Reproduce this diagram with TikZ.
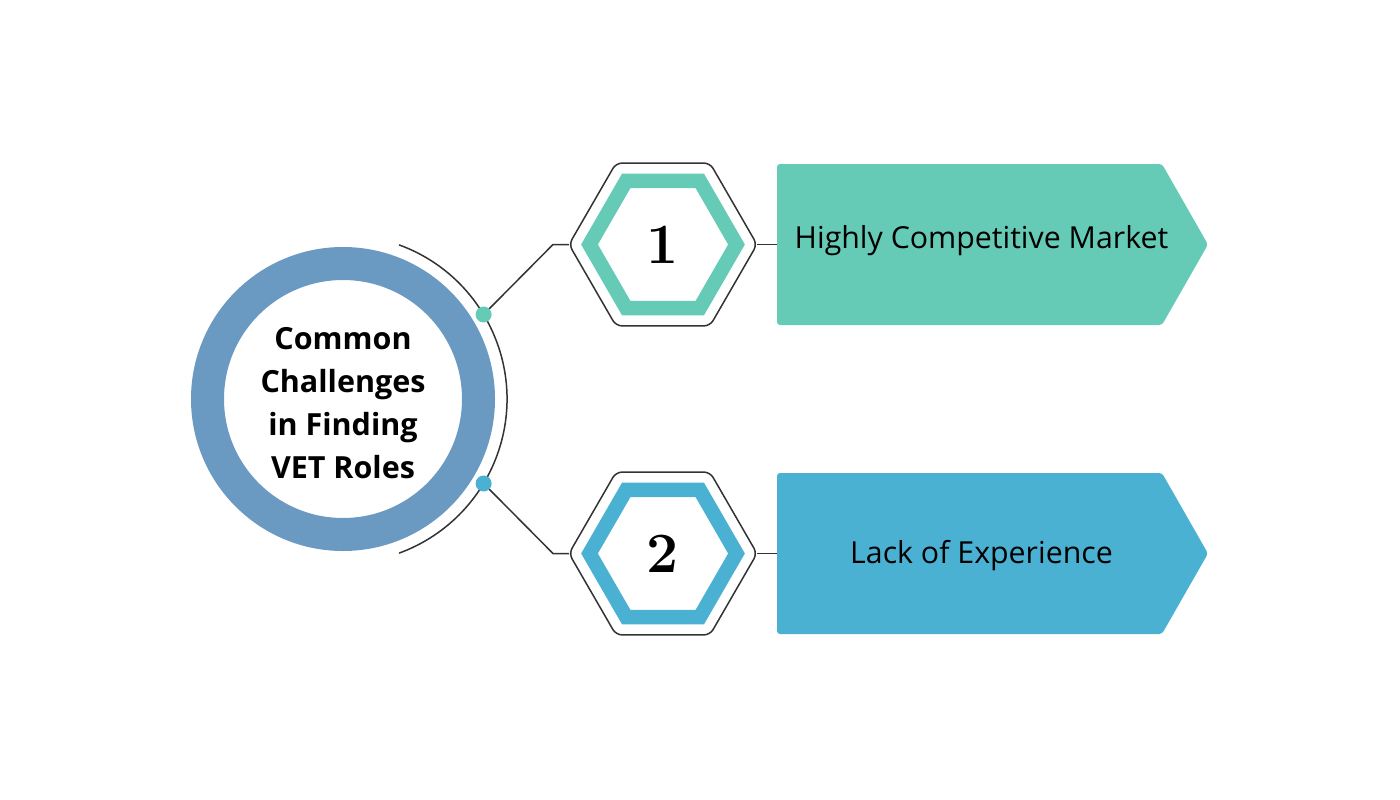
\documentclass[tikz,border=0pt]{standalone}
\usepackage{fontspec}
\usetikzlibrary{shapes.geometric}
\newfontfamily\osans{Open Sans}
\definecolor{tealc}{HTML}{66CBB6}
\definecolor{bluec}{HTML}{4BB1D3}
\definecolor{ringc}{HTML}{6A9AC2}
\definecolor{linec}{HTML}{333333}
\tikzset{
  conn/.style={draw=linec, line width=1.5pt},
  hexout/.style={regular polygon, regular polygon sides=6, minimum size=188pt, inner sep=0pt, outer sep=0pt, draw=linec, line width=1.5pt, rounded corners=6pt, fill=white},
  hexin/.style={regular polygon, regular polygon sides=6, minimum size=147pt, inner sep=0pt, outer sep=0pt, line width=14.5pt},
  dotn/.style={circle, minimum size=16pt, inner sep=0pt, outer sep=0pt},
  numtxt/.style={inner sep=0pt, font=\fontsize{57}{57}\selectfont\bfseries},
  boxtxt/.style={inner sep=0pt, anchor=base, text=black, font=\osans\fontsize{30.3}{30.3}\selectfont},
}
\begin{document}
\begin{tikzpicture}[x=1pt, y=-1pt]
\useasboundingbox (0,0) rectangle (1400,800);
% hub ring
\node[circle, draw=ringc, line width=33pt, minimum size=271pt, inner sep=0pt] (hub) at (343,399) {};
\node[align=center, inner sep=0pt, font=\osans\bfseries\fontsize{30.5}{43}\selectfont] (title) at (343,403) {Common\\Challenges\\in Finding\\VET Roles};
% arc
\draw[conn] (343,399) ++(56.1,-154.1) arc[start angle=-70, end angle=70, radius=164];
% dots
\node[dotn, fill=tealc] (d1) at (483.6,314.5) {};
\node[dotn, fill=bluec] (d2) at (483.6,483.5) {};
% hexagons
\node[hexout] (h1o) at (663,244.5) {};
\node[hexin, draw=tealc] (h1i) at (663,244.5) {};
\node[numtxt] (n1) at (663,244.5) {1};
\node[hexout] (h2o) at (663,553.5) {};
\node[hexin, draw=bluec] (h2i) at (663,553.5) {};
\node[numtxt] (n2) at (663,553.5) {2};
% connectors
\coordinate (k1) at (553,244.5);
\coordinate (k2) at (553,553.5);
\draw[conn] (d1) -- (k1) -- (h1o.west);
\draw[conn] (d2) -- (k2) -- (h2o.west);
% boxes
\fill[tealc, rounded corners=3pt] (777,164) -- (1162,164) -- (1208,244.5) -- (1162,325) -- (777,325) -- cycle;
\fill[bluec, rounded corners=3pt] (777,473) -- (1162,473) -- (1208,553.5) -- (1162,634) -- (777,634) -- cycle;
\coordinate (b1) at (777,244.5);
\coordinate (b2) at (777,553.5);
\draw[conn] (h1o.east) -- (b1);
\draw[conn] (h2o.east) -- (b2);
\node[boxtxt] (t1) at (981.5,248) {Highly Competitive Market};
\node[boxtxt] (t2) at (981.5,563) {Lack of Experience};
\end{tikzpicture}
\end{document}
